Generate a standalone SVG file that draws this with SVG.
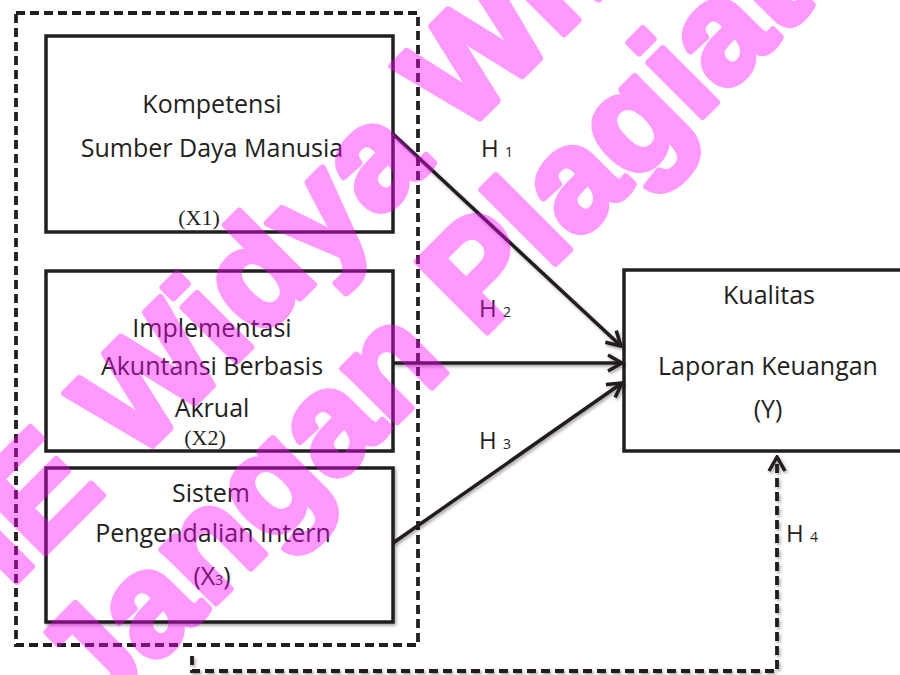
<svg xmlns="http://www.w3.org/2000/svg" width="900" height="675" viewBox="0 0 900 675">
<defs>
<style>
.box{fill:#fff;stroke:#231f20;stroke-width:3.5}
.t{font-family:"Open Sans","Liberation Sans",sans-serif;font-size:25px;fill:#231f20;text-anchor:middle}
.tr{font-family:"Liberation Serif",serif;font-size:22px;fill:#231f20;text-anchor:middle}
.h{font-family:"Open Sans","Liberation Sans",sans-serif;font-size:24px;fill:#231f20}
.sub{font-size:14px}
.ln{fill:none;stroke:#231f20;stroke-width:3.5}
.dash{fill:none;stroke:#231f20;stroke-width:3.8;stroke-dasharray:9 5}
.wm{font-family:"Liberation Sans",Arial,sans-serif;font-weight:bold;font-size:144px;fill:#ff00ff;stroke:#ff00ff;stroke-width:7;stroke-linejoin:round;text-anchor:middle}
</style>
<filter id="sh" x="-10%" y="-10%" width="120%" height="120%">
<feDropShadow dx="1.5" dy="2" stdDeviation="1.5" flood-color="#000" flood-opacity="0.35"/>
</filter>
<marker id="arr" viewBox="0 0 20 20" refX="18" refY="10" markerWidth="20" markerHeight="20" markerUnits="userSpaceOnUse" orient="auto">
<path d="M4,2 L18,10 L4,18" fill="none" stroke="#231f20" stroke-width="3.5"/>
</marker>
</defs>
<rect width="900" height="675" fill="#fff"/>
<g id="group-x">
<rect x="16" y="13" width="402" height="632" class="dash"/>
</g>
<g id="node-x1">
<rect x="46" y="36" width="347" height="196" class="box"/>
<text x="212" y="113" class="t">Kompetensi</text>
<text x="212" y="157" class="t">Sumber Daya Manusia</text>
<text x="199" y="225" class="tr">(X1)</text>
</g>
<g id="node-x2">
<rect x="46" y="271" width="347" height="180" class="box"/>
<text x="212" y="337" class="t">Implementasi</text>
<text x="212" y="375" class="t">Akuntansi Berbasis</text>
<text x="212" y="417" class="t">Akrual</text>
<text x="205" y="445" class="tr">(X2)</text>
</g>
<g id="node-x3">
<rect x="46" y="468" width="347" height="154" class="box" filter="url(#sh)"/>
<text x="211" y="502" class="t">Sistem</text>
<text x="213" y="542" class="t">Pengendalian Intern</text>
<text x="212" y="585" class="t">(X<tspan class="sub">3</tspan>)</text>
</g>
<g id="node-y">
<rect x="624" y="270" width="290" height="181" class="box"/>
<text x="769" y="304" class="t">Kualitas</text>
<text x="768" y="375" class="t">Laporan Keuangan</text>
<text x="768" y="418" class="t">(Y)</text>
</g>
<g id="connectors" filter="url(#sh)">
<path d="M392,133 L621,346" class="ln" marker-end="url(#arr)"/>
<path d="M393,363 L622,363" class="ln" marker-end="url(#arr)"/>
<path d="M393,543 L622,383" class="ln" marker-end="url(#arr)"/>
<path d="M192,656 V671 H777 V457" class="dash" marker-end="url(#arr)"/>
</g>
<g id="labels">
<text x="481" y="157" class="h">H <tspan class="sub">1</tspan></text>
<text x="479" y="317" class="h">H <tspan class="sub">2</tspan></text>
<text x="479" y="449" class="h">H <tspan class="sub">3</tspan></text>
<text x="786" y="542" class="h">H <tspan class="sub">4</tspan></text>
</g>
<g id="watermark" opacity="0.4">
<text class="wm" transform="translate(360,238) rotate(-45)">STIE Widya Wiwaha</text>
<text class="wm" transform="translate(455,364) rotate(-45)">Jangan Plagiat</text>
</g>
</svg>
